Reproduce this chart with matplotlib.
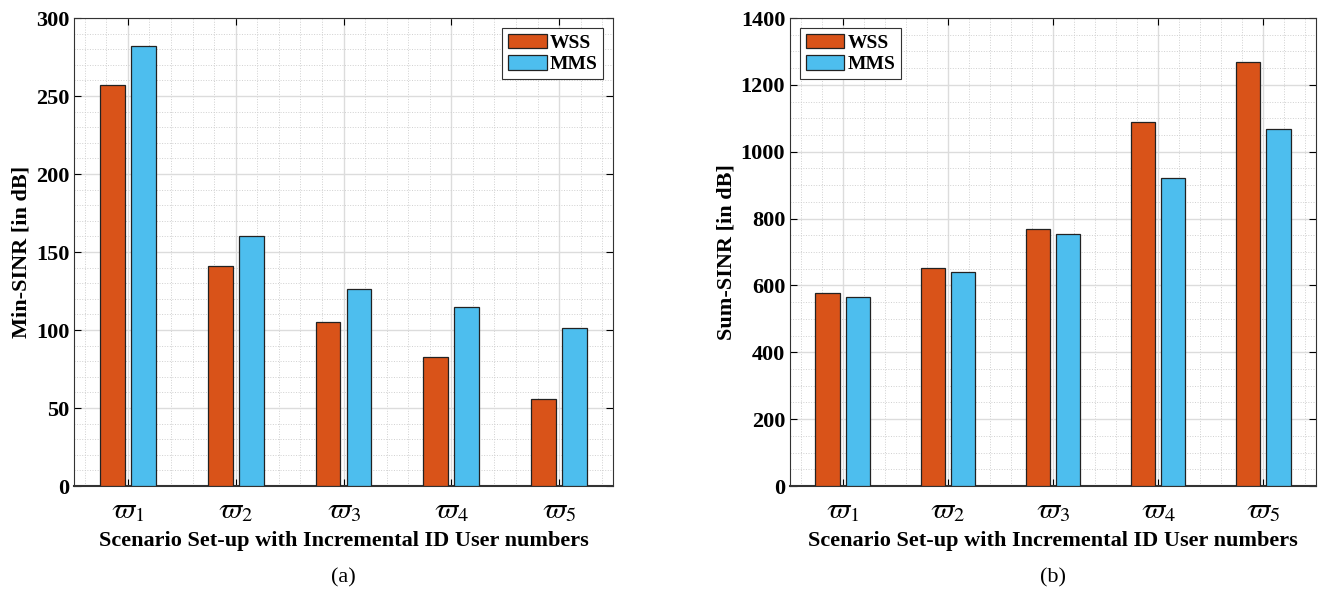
import matplotlib
matplotlib.use("Agg")
import matplotlib.pyplot as plt
import numpy as np
from matplotlib.ticker import MultipleLocator

plt.rcParams['font.family'] = ['Liberation Serif', 'DejaVu Serif']
plt.rcParams['mathtext.fontset'] = 'stix'

categories = [r'$\varpi_1$', r'$\varpi_2$', r'$\varpi_3$', r'$\varpi_4$', r'$\varpi_5$']
series_names = ['WSS', 'MMS']
min_wss = [257, 141, 105, 83, 56]
min_mms = [282, 160, 126, 115, 101]
sum_wss = [577, 653, 768, 1088, 1267]
sum_mms = [565, 641, 755, 920, 1069]

c_wss = '#D95319'
c_mms = '#4DBEEE'

fig = plt.figure(figsize=(13.38, 5.9), dpi=100)
W, H = 1338, 590
ax1 = fig.add_axes([74 / W, 1 - 486 / H, (613 - 74) / W, (486 - 18) / H])
ax2 = fig.add_axes([790 / W, 1 - 486 / H, (1316 - 790) / W, (486 - 18) / H])

x = np.arange(1, 6)
bw = 0.23
off = 0.144


def style(ax, wss, mms, ymax, major, minor, ylabel, loc, caption):
    ax.bar(x - off, wss, bw, color=c_wss, edgecolor='#222222', linewidth=0.9, label=series_names[0], zorder=3)
    ax.bar(x + off, mms, bw, color=c_mms, edgecolor='#222222', linewidth=0.9, label=series_names[1], zorder=3)
    ax.set_xlim(0.5, 5.5)
    ax.set_ylim(0, ymax)
    ax.set_xticks(x)
    ax.set_xticklabels(categories, fontsize=21)
    ax.yaxis.set_major_locator(MultipleLocator(major))
    ax.yaxis.set_minor_locator(MultipleLocator(minor))
    ax.xaxis.set_minor_locator(MultipleLocator(0.2))
    ax.tick_params(which='both', direction='in', top=True, right=True)
    ax.tick_params(which='major', length=5)
    ax.tick_params(axis='y', labelsize=16)
    ax.tick_params(which='minor', length=0)
    ax.tick_params(axis='x', pad=9)
    for lab in ax.get_yticklabels():
        lab.set_fontweight('bold')
    ax.grid(which='major', color='#dcdcdc', linewidth=1.0, zorder=0)
    ax.grid(which='minor', color='#d0d0d0', linewidth=0.7, linestyle=':', zorder=0)
    ax.set_axisbelow(True)
    for s in ax.spines.values():
        s.set_color('#333333')
        s.set_linewidth(0.8)
    ax.spines['bottom'].set_linewidth(1.5)
    ax.set_ylabel(ylabel, fontsize=16, fontweight='bold', labelpad=3)
    ax.set_xlabel('Scenario Set-up with Incremental ID User numbers', fontsize=16, fontweight='bold', labelpad=5)
    leg = ax.legend(loc=loc, prop={'weight': 'bold', 'size': 14}, fancybox=False,
                    edgecolor='#333333', framealpha=1, handlelength=2.0, handleheight=0.8,
                    borderpad=0.3, labelspacing=0.15, handletextpad=0.15, borderaxespad=0.5)
    leg.get_frame().set_linewidth(0.8)
    ax.text(0.5, -0.197, caption, transform=ax.transAxes, ha='center', va='center', fontsize=16)


style(ax1, min_wss, min_mms, 300, 50, 10, 'Min-SINR [in dB]', 'upper right', '(a)')
style(ax2, sum_wss, sum_mms, 1400, 200, 50, 'Sum-SINR [in dB]', 'upper left', '(b)')

fig.savefig('out.png', dpi=100)
